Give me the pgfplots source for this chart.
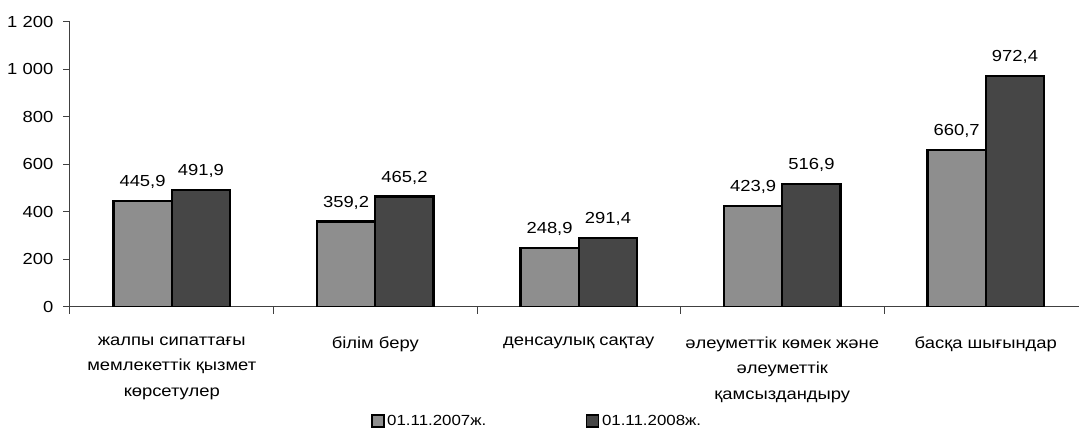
\documentclass[border=0pt]{standalone}
\usepackage{fontspec}
\setmainfont{Liberation Sans}[FakeStretch=1.15]
\usepackage{pgfplots}
\pgfplotsset{compat=1.18}
\definecolor{lightbar}{HTML}{8E8E8E}
\definecolor{darkbar}{HTML}{464646}
\begin{document}
\begin{tikzpicture}
\path[use as bounding box] (0,0) rectangle (809.25pt,323.25pt);
\begin{axis}[
  at={(52.5pt,93pt)}, anchor=south west,
  scale only axis, width=756.75pt, height=214pt,
  xmin=-0.5, xmax=4.458, ymin=0, ymax=1200,
  axis lines=left, axis line style={-, black!75, line width=0.75pt},
  ybar=0pt, bar width=0.287,
  ytick={0,200,...,1200},
  xtick={0,1,2,3,4},
  xticklabels={{жалпы сипаттағы\\мемлекеттік қызмет\\көрсетулер},{білім беру},{денсаулық сақтау},{әлеуметтік көмек және\\әлеуметтік\\қамсыздандыру},{басқа шығындар}},
  minor xtick={-0.5,0.5,1.5,2.5,3.5},
  major x tick style={draw=none},
  tick align=outside, major tick length=5pt, minor tick length=5pt,
  tick style={black!75, line width=0.75pt},
  /pgf/number format/assume math mode=true,
  tick label style={font=\fontsize{12}{14}\selectfont},
  yticklabel style={/pgf/number format/1000 sep={\ }, xshift=-4pt},
  xticklabel style={align=center, font=\fontsize{12}{19}\selectfont, yshift=-14pt},
  nodes near coords={\pgfmathprintnumber[fixed,fixed zerofill,precision=1,use comma]{\pgfplotspointmeta}},
  nodes near coords style={font=\fontsize{12}{14}\selectfont, yshift=5pt, black},
  legend image code/.code={\draw[#1, line width=0.8pt] (0pt,-4.5pt) rectangle (9pt,4.5pt);},
  legend columns=2,
  legend style={at={(0.2985,-0.3996)}, anchor=west, draw=none, inner sep=0pt,
    font=\fontsize{11}{13}\selectfont,
    /tikz/every even column/.append style={column sep=73pt}},
]
\addplot[fill=lightbar, draw=black, line width=1.8pt, bar shift=-0.1435] coordinates {(0,445.9) (1,359.2) (2,248.9) (3,423.9) (4,660.7)};
\addplot[fill=darkbar, draw=black, line width=1.8pt, bar shift=0.1435] coordinates {(0,491.9) (1,465.2) (2,291.4) (3,516.9) (4,972.4)};
\legend{01.11.2007ж.,01.11.2008ж.}
\end{axis}
\end{tikzpicture}
\end{document}
